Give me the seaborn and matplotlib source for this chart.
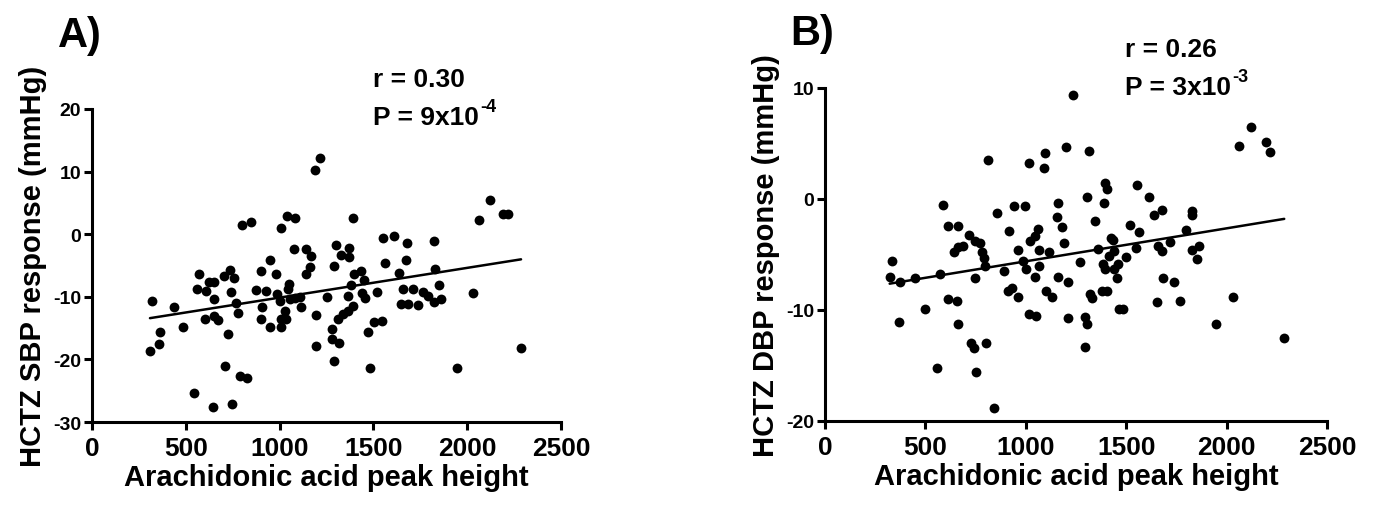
import numpy as np
import pandas as pd
import matplotlib
matplotlib.use("Agg")
import matplotlib.pyplot as plt
import seaborn as sns

# panel A: arachidonic acid peak height vs HCTZ SBP response
sbp_x = [321, 362, 359, 309, 437, 486, 545, 571, 559, 607, 625, 652, 648, 604, 648,
         670, 646, 711, 725, 702, 736, 759, 741, 770, 780, 745, 787, 827, 800, 845,
         875, 902, 927, 904, 902, 948, 948, 980, 988, 1004, 1005, 1009, 1005, 1027, 1036,
         1041, 1080, 1052, 1046, 1054, 1080, 1107, 1116, 1075, 1143, 1170, 1161, 1143, 1188, 1218,
         1196, 1196, 1254, 1289, 1302, 1327, 1371, 1371, 1389, 1280, 1280, 1316, 1291, 1309, 1339,
         1366, 1393, 1366, 1398, 1434, 1380, 1452, 1438, 1455, 1470, 1484, 1505, 1520,
         1549, 1610, 1677, 1825, 1560, 1674, 1636, 1828, 1851,
         1656, 1713, 1766, 1793, 1823, 1860, 1645, 1683, 1736,
         1548, 2033, 2065, 2122, 2193, 2216, 1944, 2287]
sbp_y = [-10.7, -15.7, -17.6, -18.6, -11.6, -14.9, -25.3, -6.3, -8.8, -9.0, -7.7, -7.6, -10.4, -13.5, -13.1,
         -13.7, -27.6, -21.1, -16.0, -6.6, -5.7, -7.0, -9.3, -11.0, -12.6, -27.2, -22.6, -22.9, 1.4, 1.9,
         -8.9, -5.8, -9.0, -11.7, -13.5, -4.2, -14.9, -6.3, -9.6, -10.6, 1.0, -14.8, -13.6, -12.2, -13.6,
         2.9, 2.6, -7.9, -8.8, -10.4, -10.2, -10.1, -11.6, -2.3, -2.3, -3.5, -5.2, -6.3, 10.2, 12.1,
         -12.9, -17.9, -10.1, -5.1, -1.7, -3.3, -2.2, -3.7, 2.6, -15.1, -16.7, -17.4, -20.3, -13.5, -12.8,
         -12.2, -11.5, -9.8, -6.3, -5.9, -8.1, -7.3, -9.4, -10.2, -15.7, -21.4, -14.0, -9.3,
         -0.6, -0.3, -1.4, -1.1, -4.6, -4.1, -6.2, -5.6, -8.1,
         -8.8, -8.7, -9.2, -9.8, -10.8, -10.4, -11.1, -11.1, -11.3,
         -13.8, -9.4, 2.3, 5.5, 3.2, 3.2, -21.4, -18.1]

# panel B: arachidonic acid peak height vs HCTZ DBP response
dbp_x = [332, 322, 375, 370, 449, 497, 556, 572, 586, 614, 660, 643, 662, 685, 614,
         657, 660, 715, 749, 774, 783, 791, 795, 746, 726, 741, 800, 754, 840, 813,
         855, 889, 914, 943, 998, 963, 909, 931, 963, 1018, 1094, 1089, 988, 1002, 1022,
         1044, 1061, 1066, 1064, 1044, 1015, 1049, 1099, 1128, 1116, 1158, 1157, 1178, 1190, 1158,
         1210, 1210, 1200, 1234, 1313, 1268, 1305, 1343, 1359, 1386, 1392, 1389, 1392, 1406, 1296,
         1304, 1296, 1322, 1332, 1380, 1406, 1414, 1423, 1439,
         1433, 1437, 1457, 1453, 1500, 1517, 1565, 1550, 1553, 1614, 1639, 1678, 1656, 1678, 1716,
         1682, 1739, 1653, 1769, 1465, 1483, 1799, 1827, 1830, 1827, 1865, 1852, 2034, 1948, 2287,
         2064, 2123, 2197, 2217]
dbp_y = [-5.6, -7.0, -7.5, -11.1, -7.1, -9.9, -15.2, -6.8, -0.5, -2.4, -2.4, -4.8, -4.3, -4.2, -9.0,
         -9.2, -11.3, -3.2, -3.8, -4.0, -4.8, -5.3, -6.0, -7.1, -13.0, -13.4, -13.0, -15.6, -18.8, 3.5,
         -1.3, -6.5, -2.9, -0.6, -0.6, -4.6, -8.3, -8.0, -8.8, 3.2, 4.1, 2.8, -5.6, -6.3, -3.8,
         -3.3, -2.7, -4.6, -6.0, -7.0, -10.4, -10.5, -8.3, -8.8, -4.8, -0.4, -1.6, -2.5, -4.0, -7.0,
         -7.5, -10.7, 4.7, 9.4, 4.3, -5.7, 0.2, -2.0, -4.5, -5.9, -6.3, -0.4, 1.4, 0.9, -10.6,
         -11.3, -13.3, -8.6, -8.9, -8.3, -8.3, -5.1, -3.5, -6.3,
         -3.7, -4.7, -5.9, -7.1, -5.2, -2.3, -3.0, -4.4, 1.3, 0.2, -1.4, -1.0, -4.2, -4.7, -3.9,
         -7.1, -7.5, -9.3, -9.2, -9.9, -9.9, -2.8, -1.1, -1.4, -4.6, -4.2, -5.4, -8.8, -11.3, -12.5,
         4.8, 6.5, 5.1, 4.2]

sbp = pd.DataFrame({"peak": sbp_x, "resp": sbp_y})
dbp = pd.DataFrame({"peak": dbp_x, "resp": dbp_y})

x_ticks = [0, 500, 1000, 1500, 2000, 2500]

sns.set_style("ticks")
plt.rcParams["font.family"] = ["Liberation Sans", "DejaVu Sans"]
plt.rcParams["font.weight"] = "bold"
plt.rcParams["axes.unicode_minus"] = False
for k in ["text.color", "axes.labelcolor", "xtick.color", "ytick.color", "axes.edgecolor"]:
    plt.rcParams[k] = "black"

W, H = 1374, 510
fig = plt.figure(figsize=(W / 100, H / 100), dpi=100)


def px_axes(l, r, t, b):
    return fig.add_axes([l / W, 1 - b / H, (r - l) / W, (b - t) / H])


ax1 = px_axes(92, 561, 110, 423)
ax2 = px_axes(825, 1327, 89, 422)

panels = [
    (ax1, sbp, (-30, 20), [-30, -20, -10, 0, 10, 20], "HCTZ SBP response (mmHg)"),
    (ax2, dbp, (-20, 10), [-20, -10, 0, 10], "HCTZ DBP response (mmHg)"),
]

for ax, df, ylim, yticks, ylab in panels:
    sns.regplot(data=df, x="peak", y="resp", ax=ax, ci=None,
                scatter_kws={"s": 50, "color": "black", "linewidths": 0, "alpha": 1},
                line_kws={"color": "black", "lw": 1.8})
    ax.set_xlim(0, 2500)
    ax.set_ylim(*ylim)
    ax.set_xticks(x_ticks)
    ax.set_yticks(yticks)
    ax.set_xlabel("Arachidonic acid peak height", fontsize=21, fontweight="bold", labelpad=2)
    ax.set_ylabel(ylab, fontsize=21, fontweight="bold", labelpad=4)
    ax.tick_params(axis="both", width=2.2, length=6, direction="out", color="black")
    ax.tick_params(axis="x", labelsize=19, pad=4)
    ax.tick_params(axis="y", labelsize=14, pad=2)
    for lab in ax.get_xticklabels() + ax.get_yticklabels():
        lab.set_fontweight("bold")
    for s in ["left", "bottom"]:
        ax.spines[s].set_linewidth(2.2)
    sns.despine(ax=ax)

fig.text(58 / W, 1 - 47 / H, "A)", fontsize=30, fontweight="bold", ha="left", va="baseline")
fig.text(790 / W, 1 - 45 / H, "B)", fontsize=30, fontweight="bold", ha="left", va="baseline")


def stat_text(ax, x, y, r_txt, p_base, p_exp):
    fig.text(x / W, 1 - y / H, r_txt, fontsize=19, fontweight="bold", va="baseline")
    t = fig.text(x / W, 1 - (y + 38) / H, p_base, fontsize=19, fontweight="bold", va="baseline")
    ax.annotate(p_exp, xy=(1, 1), xycoords=t, xytext=(1, -1),
                textcoords="offset points", fontsize=13, fontweight="bold",
                va="center", ha="left", annotation_clip=False)


stat_text(ax1, 373, 87, "r = 0.30", "P = 9x10", "-4")
stat_text(ax2, 1125, 57, "r = 0.26", "P = 3x10", "-3")

fig.savefig("out.png", dpi=100, facecolor="white")
